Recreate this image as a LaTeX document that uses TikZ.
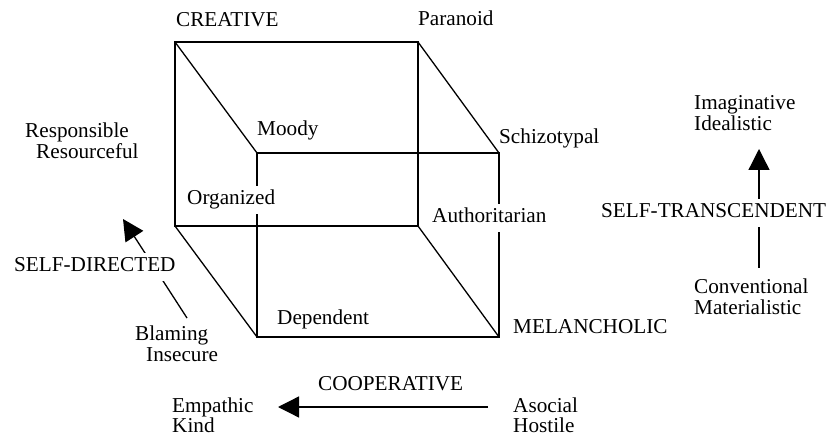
\documentclass[tikz,border=0pt]{standalone}
\usepackage{fontspec}
\setmainfont{Liberation Serif}
\usetikzlibrary{arrows.meta}
\begin{document}
\begin{tikzpicture}[x=1pt,y=-1pt,
  lbl/.style={inner sep=0pt,anchor=base west,font=\fontsize{21.2}{24}\selectfont},
  brk/.style={lbl,fill=white,inner sep=4pt,text height=15pt,text depth=5pt},
  cubeedge/.style={line width=1.3pt,line join=miter},
  arr/.style={line width=1.3pt,-{Triangle[length=21pt,width=21pt]}}]
\useasboundingbox (0,0) rectangle (829,435);
% cube corners
\coordinate (BTL) at (175,42);
\coordinate (BTR) at (418,42);
\coordinate (BBL) at (175,226);
\coordinate (BBR) at (418,226);
\coordinate (FTL) at (257,153);
\coordinate (FTR) at (499,153);
\coordinate (FBL) at (257,337);
\coordinate (FBR) at (499,337);
\draw[cubeedge] (BTL) -- (BTR) -- (BBR) -- (BBL) -- cycle;
\draw[cubeedge] (FTL) -- (FTR) -- (FBR) -- (FBL) -- cycle;
\draw[cubeedge] (BTL) -- (FTL);
\draw[cubeedge] (BTR) -- (FTR);
\draw[cubeedge] (BBL) -- (FBL);
\draw[cubeedge] (BBR) -- (FBR);
% arrows
\coordinate (sdA) at (187,318);
\coordinate (sdB) at (123,219);
\draw[arr] (sdA) -- (sdB);
\coordinate (coA) at (488,407);
\coordinate (coB) at (278,407);
\draw[arr] (coA) -- (coB);
\coordinate (stA) at (759,268);
\coordinate (stB) at (759,149);
\draw[arr] (stA) -- (stB);
% labels
\node[lbl] (creative) at (176,27) {CREATIVE};
\node[lbl] (paranoid) at (418,26) {Paranoid};
\node[lbl] (moody) at (257,136) {Moody};
\node[lbl] (schizo) at (499,144) {Schizotypal};
\node[lbl] (resp) at (25,138) {Responsible};
\node[lbl] (resou) at (36,159) {Resourceful};
\node[brk] (organized) at (183,205) {Organized};
\node[brk] (author) at (428,223) {Authoritarian};
\node[brk] (selfdir) at (10,272) {SELF-DIRECTED};
\node[lbl] (blaming) at (135,340) {Blaming};
\node[lbl] (insecure) at (146,361) {Insecure};
\node[lbl] (dependent) at (277,324) {Dependent};
\node[lbl] (melan) at (513,333) {MELANCHOLIC};
\node[lbl] (coop) at (318,390) {COOPERATIVE};
\node[lbl] (empathic) at (172,412) {Empathic};
\node[lbl] (kind) at (172,432) {Kind};
\node[lbl] (asocial) at (513,412) {Asocial};
\node[lbl] (hostile) at (513,432) {Hostile};
\node[lbl] (imag) at (694,110) {Imaginative};
\node[lbl] (ideal) at (694,131) {Idealistic};
\node[brk] (selftr) at (597,218) {SELF-TRANSCENDENT};
\node[lbl] (conv) at (694,294) {Conventional};
\node[lbl] (mater) at (694,315) {Materialistic};
\end{tikzpicture}
\end{document}
